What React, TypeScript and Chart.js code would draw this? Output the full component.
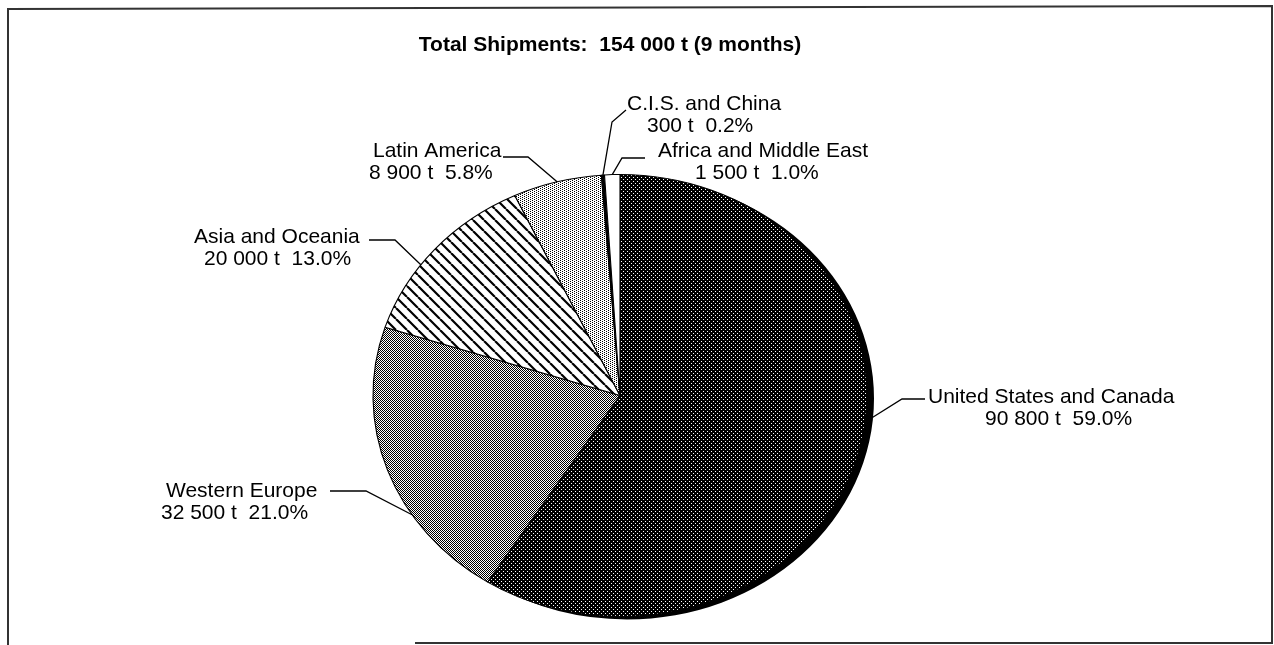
import React, { useEffect, useRef } from "react";
import { Chart, registerables } from "chart.js";

Chart.register(...registerables);

// ---- data ----
const regions = [
  "United States and Canada",
  "Western Europe",
  "Asia and Oceania",
  "Latin America",
  "C.I.S. and China",
  "Africa and Middle East",
];
const tonnes = ["90 800 t", "32 500 t", "20 000 t", "8 900 t", "300 t", "1 500 t"];
const shares = [59.0, 21.0, 13.0, 5.8, 0.2, 1.0];
const titleText = "Total Shipments:  154 000 t (9 months)";

// ---- layout (label placement, not data) ----
const SX = 247 / 221; // horizontal stretch of the pie (ellipse)
const SHADOW_X = 7;
const SHADOW_Y = 3;
const LINE_GAP = 22;
const labelLayout = [
  { f: 0.45, push: 7, elbow: [902, 399], end: [925, 399], x1: 928, x2: 985, y1: 403 },
  { f: 0.33, push: 0, elbow: [366, 491], end: [330, 491], x1: 166, x2: 161, y1: 497 },
  { f: 0.39, push: 0, elbow: [395, 240], end: [369, 240], x1: 194, x2: 204, y1: 243 },
  { f: 0.5, push: 0, elbow: [528, 157], end: [503, 157], x1: 373, x2: 369, y1: 157 },
  { f: 0.5, push: 0, elbow: [612, 122], end: [626, 110], x1: 627, x2: 647, y1: 110 },
  { f: 0.5, push: 0, elbow: [622, 158], end: [645, 158], x1: 658, x2: 695, y1: 157 },
];

function makeTile(rows: number[][]): CanvasPattern {
  const h = rows.length;
  const w = rows[0].length;
  const c = document.createElement("canvas");
  c.width = w;
  c.height = h;
  const g = c.getContext("2d")!;
  g.fillStyle = "#fff";
  g.fillRect(0, 0, w, h);
  g.fillStyle = "#000";
  rows.forEach((r, y) =>
    r.forEach((v, x) => {
      if (v) g.fillRect(x, y, 1, 1);
    })
  );
  return g.createPattern(c, "repeat")!;
}

function makeHatch(size: number, lw: number): CanvasPattern {
  const c = document.createElement("canvas");
  c.width = size;
  c.height = size;
  const g = c.getContext("2d")!;
  g.fillStyle = "#fff";
  g.fillRect(0, 0, size, size);
  g.strokeStyle = "#000";
  g.lineWidth = lw;
  g.beginPath();
  for (const k of [-size, 0, size]) {
    g.moveTo(k, 0);
    g.lineTo(k + size, size);
  }
  g.stroke();
  return g.createPattern(c, "repeat")!;
}

export default function App() {
  const ref = useRef<HTMLCanvasElement>(null);

  useEffect(() => {
    document.body.style.margin = "0";
    const canvas = ref.current!;
    const patterns: (CanvasPattern | string)[] = [
      makeTile([
        [1, 1, 1, 1],
        [1, 0, 1, 1],
        [1, 1, 1, 1],
        [1, 1, 1, 0],
      ]),
      makeTile([
        [1, 0],
        [0, 1],
      ]),
      makeHatch(11, 2.2),
      makeTile([
        [1, 0, 0, 0],
        [0, 0, 1, 0],
        [1, 0, 0, 0],
        [0, 0, 1, 0],
      ]),
      "#000",
      "#fff",
    ];

    const ellipsePlugin = {
      id: "ellipse",
      beforeDatasetsDraw(chart: any) {
        const ctx = chart.ctx as CanvasRenderingContext2D;
        const el = chart.getDatasetMeta(0).data[0] as any;
        const cx = el.x;
        const cy = el.y;
        const m = new DOMMatrix([1 / SX, 0, 0, 1, (-cx * (1 - SX)) / SX, 0]);
        patterns.forEach((p) => {
          if (typeof p !== "string") p.setTransform(m);
        });
        ctx.save();
        ctx.imageSmoothingEnabled = false;
        ctx.translate(cx, cy);
        ctx.scale(SX, 1);
        ctx.translate(-cx, -cy);
        // drop shadow of the largest slice
        const ox = SHADOW_X / SX;
        const oy = SHADOW_Y;
        ctx.beginPath();
        ctx.moveTo(cx + ox, cy + oy);
        ctx.arc(cx + ox, cy + oy, el.outerRadius, el.startAngle, el.endAngle);
        ctx.closePath();
        ctx.fillStyle = "#000";
        ctx.fill();
      },
      afterDatasetsDraw(chart: any) {
        chart.ctx.restore();
      },
    };

    const labelPlugin = {
      id: "labels",
      afterDraw(chart: any) {
        const ctx = chart.ctx as CanvasRenderingContext2D;
        const meta = chart.getDatasetMeta(0);
        ctx.save();
        // frame
        ctx.strokeStyle = "#333";
        ctx.lineWidth = 2;
        ctx.beginPath();
        ctx.moveTo(8, 645);
        ctx.lineTo(8, 9);
        ctx.lineTo(1272, 6);
        ctx.lineTo(1272, 643);
        ctx.lineTo(415, 643);
        ctx.stroke();

        // title
        ctx.fillStyle = "#000";
        ctx.font = "bold 21px 'Liberation Sans', Arial, sans-serif";
        ctx.textAlign = "center";
        ctx.textBaseline = "alphabetic";
        ctx.fillText(titleText, 610, 51);

        // labels + leaders
        ctx.font = "21px 'Liberation Sans', Arial, sans-serif";
        ctx.textAlign = "left";
        ctx.strokeStyle = "#000";
        ctx.lineWidth = 1.3;
        regions.forEach((name, i) => {
          const el = meta.data[i] as any;
          const L = labelLayout[i];
          const a = el.startAngle + L.f * (el.endAngle - el.startAngle);
          const px = el.x + (el.outerRadius * SX + L.push) * Math.cos(a);
          const py = el.y + (el.outerRadius + L.push * 0.3) * Math.sin(a);
          ctx.beginPath();
          ctx.moveTo(px, py);
          ctx.lineTo(L.elbow[0], L.elbow[1]);
          ctx.lineTo(L.end[0], L.end[1]);
          ctx.stroke();
          ctx.fillText(name, L.x1, L.y1);
          ctx.fillText(`${tonnes[i]}  ${shares[i].toFixed(1)}%`, L.x2, L.y1 + LINE_GAP);
        });
        ctx.restore();
      },
    };

    const chart = new Chart(canvas, {
      type: "pie",
      data: {
        labels: regions,
        datasets: [
          {
            data: shares,
            backgroundColor: patterns as any,
            borderColor: "#000",
            borderWidth: 1,
            clip: false as any,
          },
        ],
      },
      options: {
        animation: false,
        responsive: false,
        devicePixelRatio: 1,
        events: [],
        layout: { padding: { left: 300, right: 334, top: 174, bottom: 28 } },
        plugins: {
          legend: { display: false },
          title: { display: false },
          tooltip: { enabled: false },
        },
      },
      plugins: [ellipsePlugin, labelPlugin],
    });

    return () => chart.destroy();
  }, []);

  return (
    <div style={{ width: 1274, height: 645, background: "#fff" }}>
      <canvas ref={ref} width={1274} height={645} style={{ display: "block" }} />
    </div>
  );
}
